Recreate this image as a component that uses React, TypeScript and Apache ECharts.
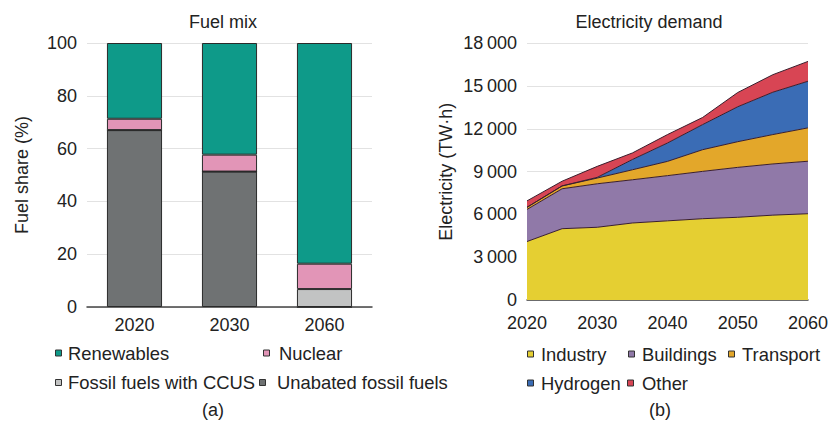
import React, { useEffect, useRef } from "react";
import * as echarts from "echarts";

// ---- Data: (a) Fuel mix ----
const fuelYears = ["2020", "2030", "2060"];
const unabated = [67, 51.3, 0];
const ccus = [0, 0, 6.8];
const nuclear = [4.3, 6.4, 9.6];
const renewables = [28.7, 42.3, 83.6];

// ---- Data: (b) Electricity demand (TW·h) ----
const demandYears = ["2020", "2025", "2030", "2035", "2040", "2045", "2050", "2055", "2060"];
const industry = [4100, 5000, 5100, 5400, 5550, 5700, 5800, 5950, 6050];
const buildings = [2250, 2800, 3050, 3030, 3170, 3320, 3500, 3590, 3680];
const transport = [150, 200, 400, 700, 1000, 1520, 1800, 2060, 2340];
const hydrogen = [0, 0, 50, 720, 1290, 1760, 2450, 2970, 3270];
const other = [450, 330, 770, 460, 590, 500, 1000, 1230, 1390];

const FONT = "'Liberation Sans', Arial, sans-serif";
const TXT = "#222";
const FS = 18;

const COLORS: Record<string, string> = {
  "Unabated fossil fuels": "#6f7273",
  "Fossil fuels with CCUS": "#c2c3c3",
  Nuclear: "#e295b7",
  Renewables: "#0e9a89",
  Industry: "#e5cf32",
  Buildings: "#9079a8",
  Transport: "#e3a72a",
  Hydrogen: "#3a6cb5",
  Other: "#d84554",
};

function fmtThousands(v: number): string {
  if (v < 1000) return String(v);
  const s = String(v);
  return s.slice(0, s.length - 3) + "\u2009" + s.slice(s.length - 3);
}

export default function App() {
  const ref = useRef<HTMLDivElement>(null);
  useEffect(() => {
    if (!ref.current) return;
    const chart = echarts.init(ref.current, undefined, { renderer: "svg" });

    const bar = (name: string, data: number[]) => ({
      type: "bar",
      stack: "fuel",
      xAxisIndex: 0,
      yAxisIndex: 0,
      barWidth: "58%",
      name,
      data,
      itemStyle: { color: COLORS[name], borderColor: "#2a2a2a", borderWidth: 1 },
    });
    const area = (name: string, data: number[]) => ({
      type: "line",
      name,
      stack: "elec",
      xAxisIndex: 1,
      yAxisIndex: 1,
      symbol: "none",
      data,
      itemStyle: { color: COLORS[name] },
      lineStyle: { color: "#3a1e2c", width: 1 },
      areaStyle: { color: COLORS[name], opacity: 1 },
    });

    // legend entries: [name, iconLeft, rowCenterY, textLeft]
    const legendItems: [string, number, number, number][] = [
      ["Renewables", 55, 353, 68],
      ["Nuclear", 263, 353, 279],
      ["Fossil fuels with CCUS", 55, 382.5, 68],
      ["Unabated fossil fuels", 259, 382.5, 277],
      ["Industry", 527, 354, 541],
      ["Buildings", 628, 354, 642],
      ["Transport", 728, 354, 742],
      ["Hydrogen", 527, 383, 541],
      ["Other", 627, 383, 642],
    ];
    const legendGraphics: any[] = [];
    legendItems.forEach(([name, ix, cy, tx]) => {
      legendGraphics.push({
        type: "rect",
        shape: { x: ix + 0.5, y: cy - 3, width: 6, height: 6 },
        style: { fill: COLORS[name], stroke: "#333", lineWidth: 1 },
      });
      legendGraphics.push({
        type: "text",
        x: tx,
        y: cy,
        style: {
          text: name,
          fontSize: 18.4,
          fontFamily: FONT,
          fill: TXT,
          verticalAlign: "middle",
          align: "left",
        },
      });
    });

    chart.setOption({
      animation: false,
      textStyle: { fontFamily: FONT, color: TXT },
      title: [
        {
          text: "Fuel mix",
          left: 223,
          top: 13,
          textAlign: "center",
          padding: 0,
          textStyle: { fontSize: FS, fontWeight: "normal", color: TXT, fontFamily: FONT },
        },
        {
          text: "Electricity demand",
          left: 649,
          top: 13,
          textAlign: "center",
          padding: 0,
          textStyle: { fontSize: FS, fontWeight: "normal", color: TXT, fontFamily: FONT },
        },
      ],
      grid: [
        { left: 87, top: 43, width: 285, height: 264 },
        { left: 527, top: 43.3, width: 281, height: 256.7 },
      ],
      xAxis: [
        {
          type: "category",
          gridIndex: 0,
          data: fuelYears,
          axisLine: { lineStyle: { color: "#444", width: 1.5 } },
          axisTick: { show: false },
          axisLabel: { fontSize: FS, color: TXT, margin: 9, fontFamily: FONT },
        },
        {
          type: "category",
          gridIndex: 1,
          data: demandYears,
          boundaryGap: false,
          splitLine: { show: false },
          axisLine: { show: true, lineStyle: { color: "#444", width: 1.5 } },
          axisTick: { show: false },
          axisLabel: { fontSize: FS, color: TXT, margin: 14, fontFamily: FONT, interval: 1 },
        },
      ],
      yAxis: [
        {
          type: "value",
          gridIndex: 0,
          min: 0,
          max: 100,
          interval: 20,
          name: "Fuel share (%)",
          nameLocation: "middle",
          nameGap: 56,
          nameTextStyle: { fontSize: FS, color: TXT, fontFamily: FONT },
          axisLine: { show: false },
          axisTick: { show: false },
          axisLabel: { fontSize: FS, color: TXT, margin: 10, fontFamily: FONT },
          splitLine: { lineStyle: { color: "#e2e2e2", width: 1 } },
        },
        {
          type: "value",
          gridIndex: 1,
          min: 0,
          max: 18000,
          interval: 3000,
          name: "Electricity (TW\u00b7h)",
          nameLocation: "middle",
          nameGap: 72,
          nameTextStyle: { fontSize: FS, color: TXT, fontFamily: FONT },
          axisLine: { show: false },
          axisTick: { show: false },
          axisLabel: { fontSize: FS, color: TXT, margin: 10, fontFamily: FONT, formatter: fmtThousands },
          splitLine: { lineStyle: { color: "#e2e2e2", width: 1 } },
        },
      ],
      graphic: [
        ...legendGraphics,
        {
          type: "text",
          x: 213,
          y: 410,
          style: { text: "(a)", fontSize: FS, fill: TXT, fontFamily: FONT, align: "center", verticalAlign: "middle" },
        },
        {
          type: "text",
          x: 660,
          y: 410,
          style: { text: "(b)", fontSize: FS, fill: TXT, fontFamily: FONT, align: "center", verticalAlign: "middle" },
        },
      ],
      series: [
        bar("Unabated fossil fuels", unabated),
        bar("Fossil fuels with CCUS", ccus),
        bar("Nuclear", nuclear),
        bar("Renewables", renewables),
        area("Industry", industry),
        area("Buildings", buildings),
        area("Transport", transport),
        area("Hydrogen", hydrogen),
        area("Other", other),
      ],
    });
    return () => chart.dispose();
  }, []);
  return (
    <div
      ref={ref}
      style={{ position: "fixed", left: 0, top: 0, width: 831, height: 427, background: "#fff" }}
    />
  );
}
